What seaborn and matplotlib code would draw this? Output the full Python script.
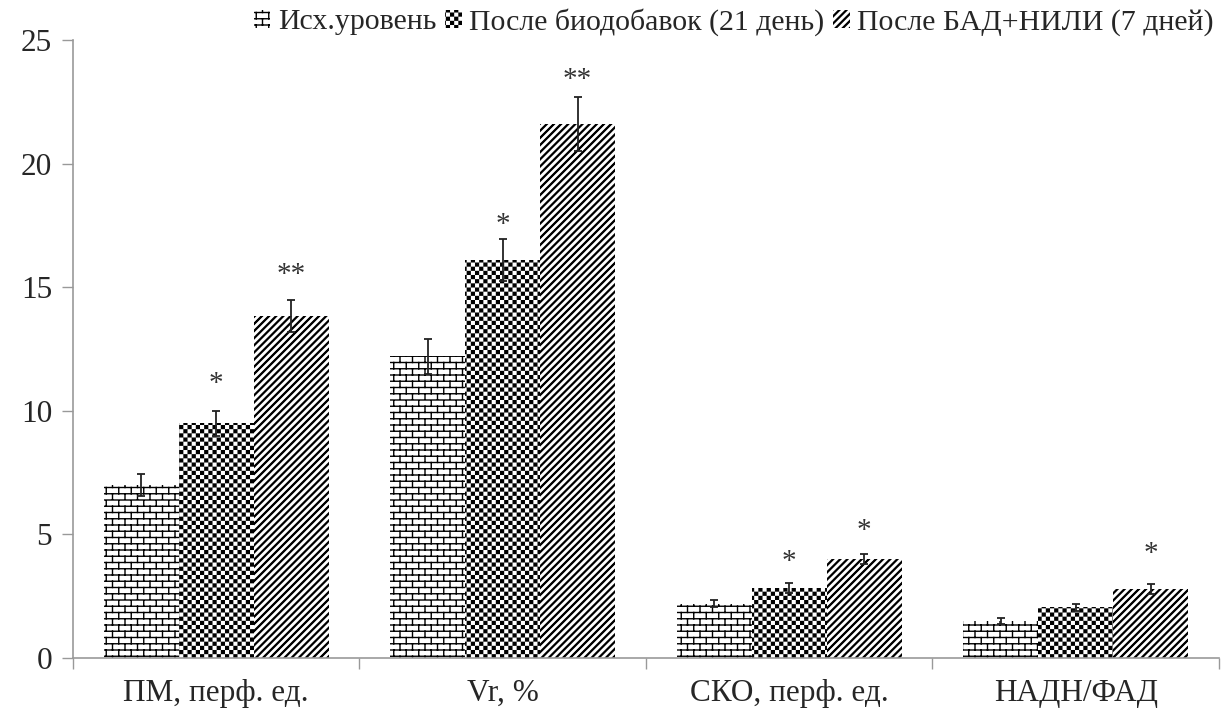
import warnings
warnings.filterwarnings('ignore')
import numpy as np
import pandas as pd
import matplotlib
matplotlib.use('Agg')
import matplotlib.pyplot as plt
import seaborn as sns
from matplotlib import hatch as mhatch
from matplotlib.path import Path

# ---------------- data ----------------
categories = ['ПМ, перф. ед.', 'Vr, %', 'СКО, перф. ед.', 'НАДН/ФАД']
groups = ['Исх.уровень', 'После биодобавок (21 день)', 'После БАД+НИЛИ (7 дней)']
val_base = [7.0, 12.2, 2.2, 1.5]
val_21 = [9.5, 16.1, 2.85, 2.05]
val_7 = [13.85, 21.6, 4.0, 2.8]
err_base = [0.45, 0.7, 0.15, 0.12]
err_21 = [0.5, 0.85, 0.2, 0.13]
err_7 = [0.65, 1.1, 0.2, 0.2]
stars_base = ['', '', '', '']
stars_21 = ['*', '*', '*', '']
stars_7 = ['**', '**', '*', '*']
star_level_base = [np.nan, np.nan, np.nan, np.nan]
star_level_21 = [11.1, 17.5, 3.9, np.nan]
star_level_7 = [15.5, 23.4, 5.15, 4.2]
yticks = [0, 5, 10, 15, 20, 25]


# ---------------- custom hatch patterns ----------------
class BrickHatch(mhatch.HatchPatternBase):
    rows, cols = 16, 8

    def __init__(self, hatch, density):
        self.on = 'b' in hatch
        n = (self.rows + 1) + self.rows * (self.cols + 1)
        self.num_vertices = 2 * n if self.on else 0

    def set_vertices_and_codes(self, vertices, codes):
        segs = []
        for k in range(self.rows + 1):
            y = k / self.rows
            segs.append([(-0.02, y), (1.02, y)])
        for k in range(self.rows):
            y0, y1 = k / self.rows, (k + 1) / self.rows
            off = 0.5 * (k % 2)
            for j in range(self.cols + 1):
                x = (j + off) / self.cols
                segs.append([(x, y0), (x, y1)])
        vertices[:] = np.array(segs).reshape(-1, 2)
        codes[0::2] = Path.MOVETO
        codes[1::2] = Path.LINETO


class CheckerHatch(mhatch.HatchPatternBase):
    n = 24
    shrink = 0.0135

    def __init__(self, hatch, density):
        self.on = 'c' in hatch
        self.num_vertices = (self.n * self.n // 2) * 5 if self.on else 0

    def set_vertices_and_codes(self, vertices, codes):
        pts = []
        s = 1.0 / self.n
        m = self.shrink / 2
        for i in range(self.n):
            for j in range(self.n):
                if (i + j) % 2 == 0:
                    x0, y0 = i * s + m, j * s + m
                    x1, y1 = (i + 1) * s - m, (j + 1) * s - m
                    pts += [(x0, y0), (x1, y0), (x1, y1), (x0, y1), (x0, y0)]
        vertices[:] = np.array(pts)
        codes[:] = np.tile([Path.MOVETO, Path.LINETO, Path.LINETO, Path.LINETO,
                            Path.CLOSEPOLY], len(pts) // 5)


class DiagHatch(mhatch.HatchPatternBase):
    n = 14
    w = 0.012

    def __init__(self, hatch, density):
        self.on = 'd' in hatch
        self.ks = list(range(-self.n - 2, self.n + 3))
        self.num_vertices = len(self.ks) * 5 if self.on else 0

    def set_vertices_and_codes(self, vertices, codes):
        pts = []
        x0, x1 = -0.2, 1.2
        for k in self.ks:
            c = k / self.n
            pts += [(x0, x0 - c), (x1, x1 - c), (x1, x1 - c + self.w),
                    (x0, x0 - c + self.w), (x0, x0 - c)]
        vertices[:] = np.array(pts)
        codes[:] = np.tile([Path.MOVETO, Path.LINETO, Path.LINETO, Path.LINETO,
                            Path.CLOSEPOLY], len(self.ks))


mhatch._hatch_types.extend([BrickHatch, CheckerHatch, DiagHatch])
hatches = ['b', 'c', 'd']

# ---------------- style ----------------
sns.set_style('white')
plt.rcParams['font.family'] = ['Liberation Serif', 'DejaVu Serif']
plt.rcParams['hatch.linewidth'] = 1.0
plt.rcParams['hatch.color'] = 'black'

df = pd.DataFrame({
    'category': categories * 3,
    'group': [groups[0]] * 4 + [groups[1]] * 4 + [groups[2]] * 4,
    'value': val_base + val_21 + val_7,
})
errs = [err_base, err_21, err_7]
stars = [stars_base, stars_21, stars_7]
star_levels = [star_level_base, star_level_21, star_level_7]

fig = plt.figure(figsize=(12.22, 7.2), dpi=100)
ax = fig.add_axes([0.0597, 0.0861, 0.9378, 0.8583])

sns.barplot(data=df, x='category', y='value', hue='group', order=categories,
            hue_order=groups, palette=['white'] * 3, saturation=1, width=0.785,
            errorbar=None, edgecolor='black', linewidth=0, legend=False, ax=ax)

for cont, h, e, st, sl in zip(ax.containers, hatches, errs, stars, star_levels):
    xs, ys = [], []
    for p in cont:
        p.set_hatch(h)
        p.set_edgecolor('black')
        p.set_linewidth(0)
        xs.append(p.get_x() + p.get_width() / 2)
        ys.append(p.get_height())
    ax.errorbar(xs, ys, yerr=e, fmt='none', ecolor='#222222', elinewidth=1.3,
                capsize=3, capthick=1.3, zorder=5)
    for x, lev, s in zip(xs, sl, st):
        if s:
            ax.text(x, lev, s, ha='center', va='center',
                    fontsize=21, color='#333333')

ax.set_xlim(-0.5, len(categories) - 0.5)
ax.set_ylim(0, 25)
ax.set_yticks(yticks)
ax.set_xlabel('')
ax.set_ylabel('')
ax.set_xticks(range(len(categories)))
ax.set_xticklabels(categories)
ax.set_xticks(np.arange(-0.5, len(categories), 1.0), minor=True)
ax.tick_params(axis='x', which='major', length=0, pad=15, labelsize=22.5)
ax.tick_params(axis='x', which='minor', length=8, width=1, color='#999999',
               direction='out', bottom=True)
ax.tick_params(axis='y', which='major', length=8, width=1, color='#999999',
               direction='out', left=True, pad=7, labelsize=22.5)
for side in ['top', 'right']:
    ax.spines[side].set_visible(False)
for side in ['left', 'bottom']:
    ax.spines[side].set_color('#999999')
    ax.spines[side].set_linewidth(1.2)

fig.legend(ax.containers, groups, loc='upper right', bbox_to_anchor=(1.008, 1.014),
           ncol=3, frameon=False, fontsize=21.5, handlelength=0.55,
           handleheight=0.55, handletextpad=0.25, columnspacing=0.3,
           borderpad=0.1)

fig.savefig('out.png', dpi=100)
